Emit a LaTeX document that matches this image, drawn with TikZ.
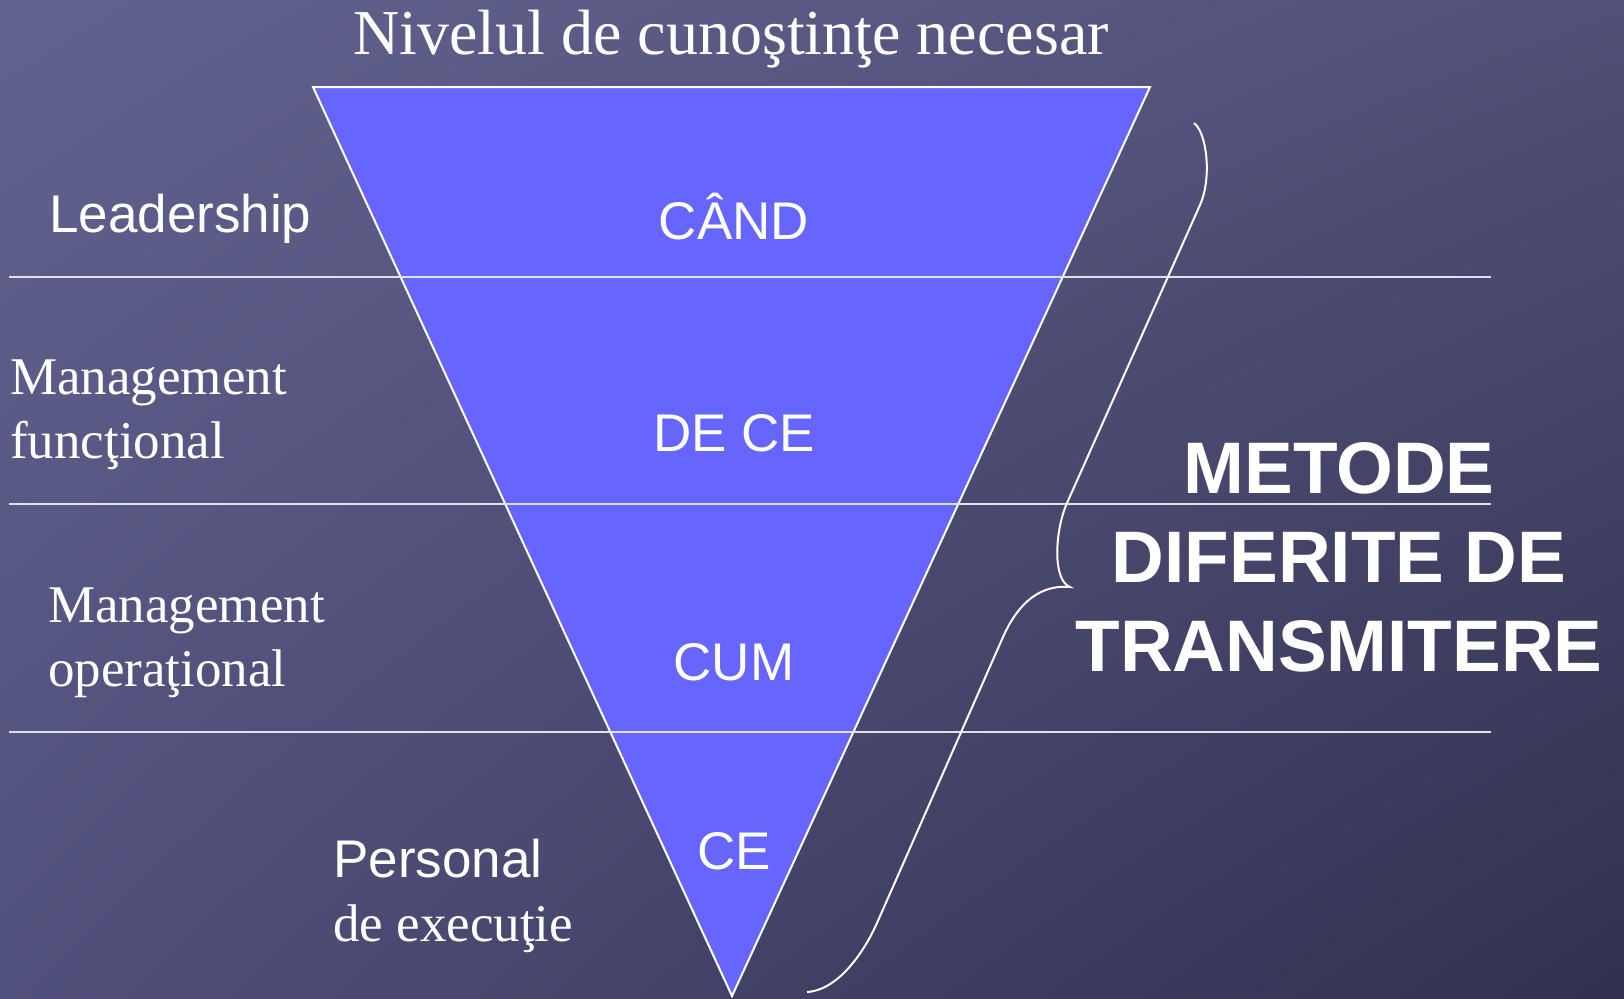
\documentclass[tikz,border=0pt]{standalone}
\usepackage{fontspec}
\setmainfont{Liberation Serif}
\setsansfont{Liberation Sans}
\usetikzlibrary{positioning,shadings}
\definecolor{bgtl}{RGB}{98,98,143}
\definecolor{bgtr}{RGB}{80,80,120}
\definecolor{bgbl}{RGB}{80,80,124}
\definecolor{bgbr}{RGB}{48,48,78}
\definecolor{funnel}{RGB}{102,102,255}
\definecolor{sepline}{RGB}{225,225,235}

\begin{document}
\begin{tikzpicture}[x=1pt, y=-1pt,
		level/.style={font=\sffamily\fontsize{53}{60}\selectfont, text=white, anchor=base, inner sep=0pt},
		role/.style={font=\fontsize{53}{63.5}\selectfont, text=white, align=left, anchor=base west, inner sep=0pt},
		sep/.style={draw=sepline, line width=2pt},
		]
		% background
		\shade[upper left=bgtl, upper right=bgtr, lower left=bgbl, lower right=bgbr] (0,0) rectangle (1624,998);
		\useasboundingbox (0,0) rectangle (1624,998);

		% funnel
		\coordinate (tl) at (313,87);
		\coordinate (tr) at (1150,87);
		\coordinate (tip) at (732,996);
		\filldraw[fill=funnel, draw=white, line width=2pt] (tl) -- (tr) -- (tip) -- cycle;

		% level separators
		\foreach \y in {277,504,732}
			\draw[sep] (9,\y) -- (1491,\y);

		\node[font=\fontsize{64}{70}\selectfont, text=white, anchor=base, inner sep=0pt] (title) at (731,55) {Nivelul de cunoştinţe necesar};

		\node[level] (cand) at (734,239) {CÂND};
		\node[level] (dece) at (734,451) {DE CE};
		\node[level] (cum) at (734,680) {CUM};
		\node[level] (ce) at (734,869) {CE};

		% base anchor = last line
		\node[level, anchor=base west] (lead) at (49,232) {Leadership};
		\node[role] (mfunc) at (10,458) {Management\\funcţional};
		\node[role] (moper) at (48,686) {Management\\operaţional};
		\node[role] (pers) at (333,941) {{\sffamily Personal}\\de execuţie};

		\node[font=\sffamily\bfseries\fontsize{73}{89}\selectfont, text=white, align=center, anchor=base, inner sep=0pt] (metode) at (1339,671) {METODE\\DIFERITE DE\\TRANSMITERE};

		% brace
		\coordinate (btop) at (1194,123);
		\coordinate (bmid) at (1070,587);
		\coordinate (bbot) at (807,992);
		\draw[white, line width=2pt] (btop) .. controls (1207,133) and (1212,178) .. (1200,205)
			-- (1067,503) .. controls (1055,530) and (1052,580) .. (bmid)
			.. controls (1035,584) and (1015,610) .. (1003,637)
			-- (877,923) .. controls (866,948) and (840,990) .. (bbot);
	\end{tikzpicture}
\end{document}
